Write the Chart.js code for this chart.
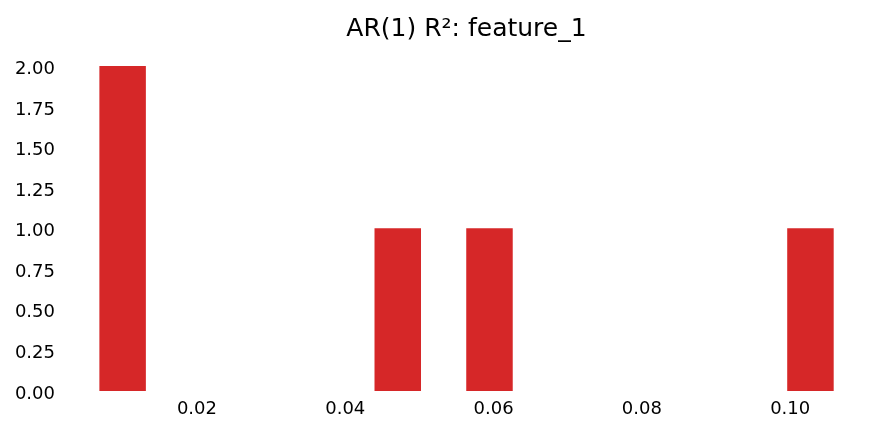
<!DOCTYPE html>
<html>
<head>
<meta charset="utf-8">
<script src="https://cdn.jsdelivr.net/npm/chart.js@4"></script>
<style>
html,body{margin:0;padding:0;background:#fff;}
#wrap{width:884px;height:432px;position:relative;}
</style>
</head>
<body>
<div id="wrap"><canvas id="c" width="884" height="432"></canvas></div>
<script>
const chartTitle = "AR(1) R²: feature_1";
// histogram bin centers (16 bins) and counts
const binCenters = [0.00998, 0.01616, 0.02235, 0.02853, 0.03472, 0.04090, 0.04708, 0.05327, 0.05945, 0.06563, 0.07182, 0.07800, 0.08418, 0.09037, 0.09655, 0.10273];
const counts =     [2, 0, 0, 0, 0, 0, 1, 0, 1, 0, 0, 0, 0, 0, 0, 1];
const xTicks = [0.02, 0.04, 0.06, 0.08, 0.10];
const yTicks = [0, 0.25, 0.5, 0.75, 1.0, 1.25, 1.5, 1.75, 2.0];
const xRange = [0.00194, 0.11076];
const yRange = [0, 2.1];

const font = {family: "'DejaVu Sans', sans-serif", size: 18};

const titlePlugin = {
  id: 'axTitle',
  afterDraw(chart) {
    const ctx = chart.ctx, a = chart.chartArea;
    ctx.save();
    ctx.font = "25px 'DejaVu Sans', sans-serif";
    ctx.fillStyle = '#000';
    ctx.textAlign = 'center';
    ctx.textBaseline = 'alphabetic';
    ctx.fillText(chartTitle, (a.left + a.right) / 2, 36);
    ctx.restore();
  }
};

new Chart(document.getElementById('c'), {
  type: 'bar',
  data: {
    datasets: [{
      data: binCenters.map((x, i) => ({x: x, y: counts[i]})),
      backgroundColor: counts.map(c => c > 0 ? '#d62728' : 'rgba(0,0,0,0)'),
      borderWidth: 0,
      barPercentage: 1,
      categoryPercentage: 1
    }]
  },
  plugins: [titlePlugin],
  options: {
    responsive: false,
    animation: false,
    devicePixelRatio: 1,
    layout: {padding: {left: 0, right: 14, top: 50, bottom: 0}},
    plugins: {
      legend: {display: false},
      tooltip: {enabled: false},
      title: {display: false}
    },
    scales: {
      x: {
        type: 'linear',
        offset: false,
        min: xRange[0],
        max: xRange[1],
        grid: {display: false, drawTicks: false, tickLength: 0},
        border: {display: false},
        afterBuildTicks: s => { s.ticks = xTicks.map(v => ({value: v})); },
        afterFit: s => { s.height = 41; },
        ticks: {
          color: '#000', font: font, padding: 8, maxRotation: 0,
          callback: v => Number(v).toFixed(2)
        }
      },
      y: {
        min: yRange[0],
        max: yRange[1],
        grid: {display: false, drawTicks: false, tickLength: 0},
        border: {display: false},
        afterBuildTicks: s => { s.ticks = yTicks.map(v => ({value: v})); },
        afterFit: s => { s.width = 63; },
        ticks: {
          color: '#000', font: font, padding: 8, labelOffset: 3,
          callback: v => Number(v).toFixed(2)
        }
      }
    }
  }
});
</script>
</body>
</html>
